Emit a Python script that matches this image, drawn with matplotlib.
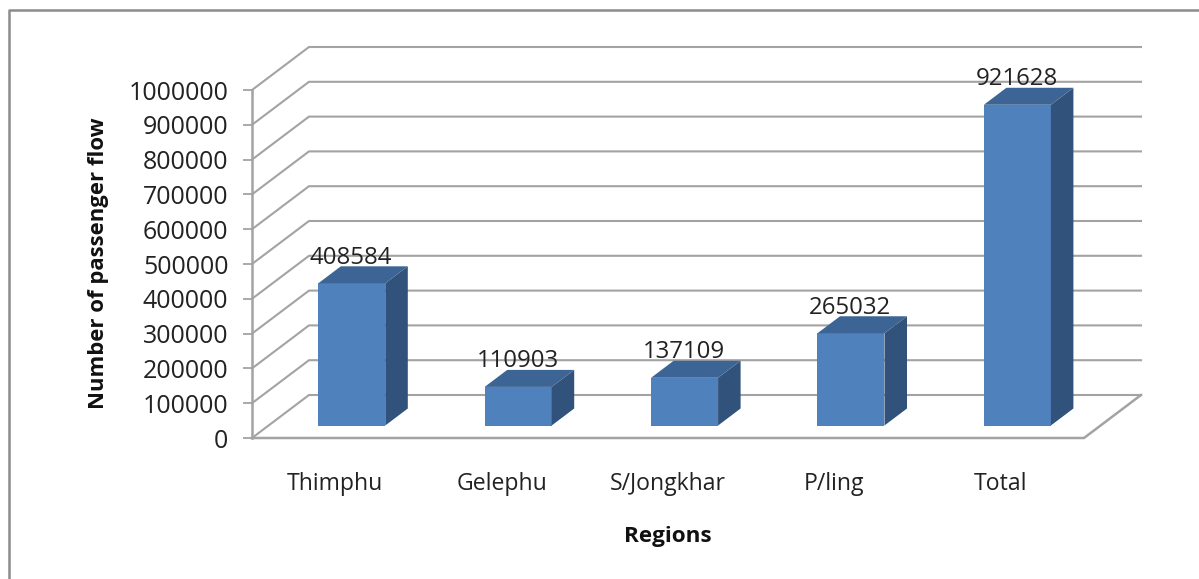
import matplotlib
matplotlib.use("Agg")
import matplotlib.pyplot as plt
from matplotlib.lines import Line2D
from matplotlib.patches import Polygon

plt.rcParams['font.family'] = ['Open Sans', 'DejaVu Sans']

regions = ["Thimphu", "Gelephu", "S/Jongkhar", "P/ling", "Total"]
passengers = [408584, 110903, 137109, 265032, 921628]
y_ticks = [0, 100000, 200000, 300000, 400000, 500000, 600000, 700000, 800000, 900000, 1000000]

W, H = 1199, 579
L, R, T, B = 252, 1084, 90, 438
GRID = "#a3a3a3"
TEXT = "#222222"

fig = plt.figure(figsize=(W / 100, H / 100), dpi=100, facecolor="white")
ax = fig.add_axes([L / W, 1 - B / H, (R - L) / W, (B - T) / H])
ax.set_xlim(0, len(regions))
ax.set_ylim(0, 1000000)
ax.patch.set_alpha(0)
for s in ax.spines.values():
    s.set_visible(False)

px_x = len(regions) / (R - L)
px_y = 1000000 / (B - T)
DX = 57 * px_x      # full floor depth, in category units
DY = 43 * px_y      # full floor depth, in value units


def proj(x, y, d):
    return (x + DX * d, y + DY * d)


# walls: gridlines along side wall and back wall
for v in y_ticks:
    pts = [proj(0, v, 0), proj(0, v, 1), proj(len(regions), v, 1)]
    ax.plot(*zip(*pts), color=GRID, lw=1.5, clip_on=False, zorder=1, solid_joinstyle="miter")
# floor outline
pts = [proj(0, 0, 0), proj(len(regions), 0, 0), proj(len(regions), 0, 1)]
ax.plot(*zip(*pts), color=GRID, lw=1.8, clip_on=False, zorder=1.5, solid_joinstyle="miter")
# value axis
ax.plot([0, 0], [0, 1000000], color=GRID, lw=1.8, clip_on=False, zorder=1.5)

# bars
half = 33.5 * px_x
d0, d1 = 12.5 / 43, 12.5 / 43 + 17 / 43
for i, v in enumerate(passengers):
    c = i + 0.5
    xl, xr = c - half, c + half
    ax.add_patch(Polygon([proj(xl, 0, d0), proj(xr, 0, d0), proj(xr, v, d0), proj(xl, v, d0)],
                         closed=True, fc="#4F81BD", ec="none", zorder=3, clip_on=False))
    ax.add_patch(Polygon([proj(xr, 0, d0), proj(xr, 0, d1), proj(xr, v, d1), proj(xr, v, d0)],
                         closed=True, fc="#31527B", ec="none", zorder=3, clip_on=False))
    ax.add_patch(Polygon([proj(xl, v, d0), proj(xr, v, d0), proj(xr, v, d1), proj(xl, v, d1)],
                         closed=True, fc="#3C6494", ec="none", zorder=3, clip_on=False))
    ax.annotate(str(v), xy=proj(c, v, d0), xytext=(-0.5, 25.5 * 0.72), textcoords="offset points",
                ha="center", va="center", fontsize=17.3, color=TEXT, zorder=4, annotation_clip=False)

# axes ticks and labels
ax.set_yticks(y_ticks)
ax.set_yticklabels([str(v) for v in y_ticks], fontsize=18, color=TEXT)
ax.tick_params(axis="y", length=6.5, width=1.3, color=GRID, pad=10.5)
ax.set_xticks([i + 0.5 for i in range(len(regions))])
ax.set_xticklabels(regions, fontsize=16.6, color=TEXT)
ax.tick_params(axis="x", length=0, pad=24.5)
ax.set_xlabel("Regions", fontsize=16.2, fontweight="bold", color="#111111")
ax.xaxis.set_label_coords((668 - L) / (R - L), -(536.5 - B) / (B - T), transform=ax.transAxes)
ax.xaxis.label.set_verticalalignment("center")
ax.set_ylabel("Number of passenger flow", fontsize=15.9, fontweight="bold", color="#111111")
ax.yaxis.set_label_coords((98.5 - L) / (R - L), (B - 263) / (B - T), transform=ax.transAxes)
ax.yaxis.label.set_verticalalignment("center")

# chart frame
fig.add_artist(Line2D([8.8 / W, 8.8 / W, 1], [0, 1 - 9.8 / H, 1 - 9.8 / H],
                      color="#8c8c8c", lw=1.8, transform=fig.transFigure))

fig.savefig("out.png", dpi=100, facecolor="white")
